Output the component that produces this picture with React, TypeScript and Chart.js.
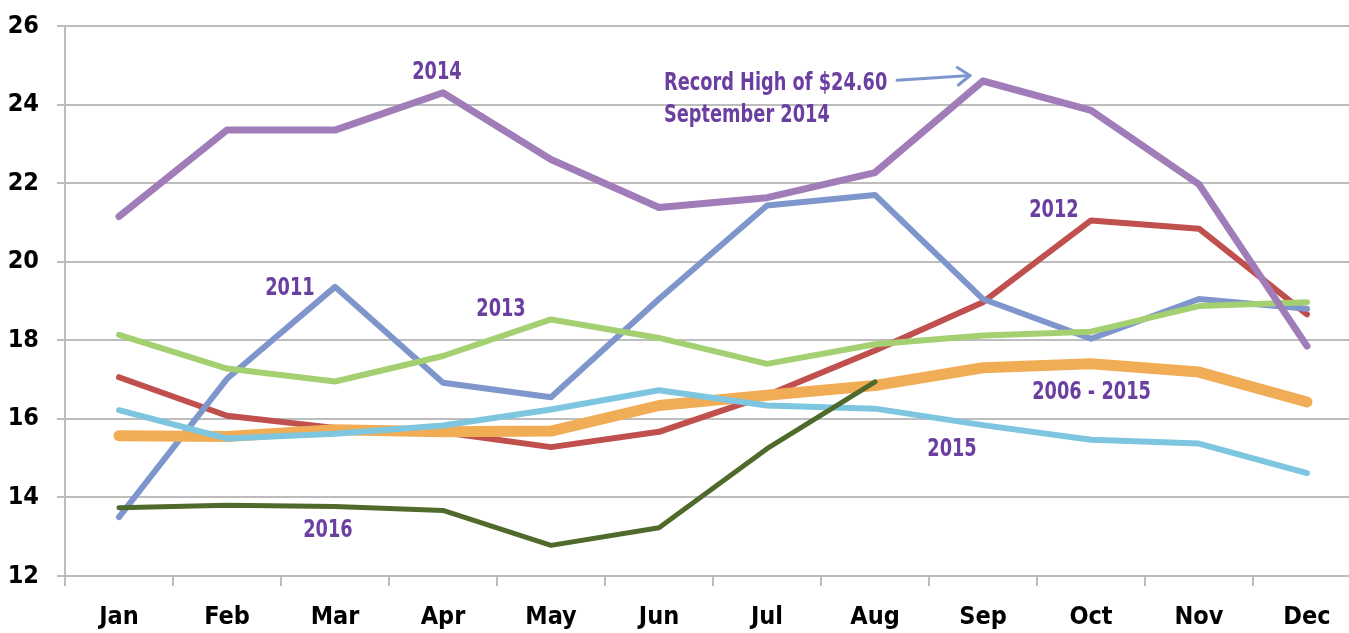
import React, { useEffect, useRef } from "react";
import { Chart, registerables } from "chart.js";

Chart.register(...registerables);

const months = ["Jan", "Feb", "Mar", "Apr", "May", "Jun", "Jul", "Aug", "Sep", "Oct", "Nov", "Dec"];

const y2014 = [21.15, 23.35, 23.35, 24.3, 22.6, 21.38, 21.63, 22.27, 24.6, 23.85, 21.97, 17.85];
const y2011 = [13.5, 17.02, 19.36, 16.92, 16.55, 19.05, 21.43, 21.7, 19.05, 18.04, 19.05, 18.8];
const y2012 = [17.06, 16.08, 15.77, 15.66, 15.28, 15.67, 16.6, 17.74, 18.97, 21.05, 20.84, 18.66];
const y2013 = [18.14, 17.28, 16.95, 17.6, 18.53, 18.06, 17.4, 17.9, 18.12, 18.22, 18.87, 18.97];
const y2015 = [16.22, 15.5, 15.62, 15.83, 16.24, 16.73, 16.34, 16.26, 15.84, 15.47, 15.37, 14.62];
const yAvg = [15.57, 15.55, 15.72, 15.67, 15.69, 16.34, 16.6, 16.85, 17.3, 17.4, 17.19, 16.43];
const y2016 = [13.74, 13.8, 13.77, 13.67, 12.78, 13.23, 15.24, 16.94];

const yMin = 12;
const yMax = 26;
const yStep = 2;

// text labels placed on the chart (x = category index, y = value)
const noteTexts = ["2014", "2011", "2013", "Record High of $24.60", "September 2014", "2012", "2006 - 2015", "2015", "2016"];
const noteX = [2.944, 1.583, 3.537, 5.046, 5.046, 8.657, 9.005, 7.713, 1.935];
const noteY = [24.83, 19.35, 18.81, 24.57, 23.75, 21.33, 16.7, 15.25, 13.19];
const noteAlign = ["center", "center", "center", "left", "left", "center", "center", "center", "center"];

// arrow pointing at the record high
const arrowFrom = [7.204, 24.62];
const arrowTo = [7.88, 24.74];

const FONT = "'Liberation Sans Narrow', 'DejaVu Sans Condensed', 'Liberation Sans', sans-serif";
const NOTE_COLOR = "#6B3FA0";
const GRID = "#BDBDBD";
const NOTE_SQUEEZE = 0.79;

const notesPlugin = {
  id: "notes",
  afterDatasetsDraw(chart: any) {
    const { ctx, scales } = chart;
    const xs = scales.x;
    const ys = scales.y;
    ctx.save();
    ctx.font = `bold 25px ${FONT}`;
    ctx.fillStyle = NOTE_COLOR;
    ctx.textBaseline = "middle";
    for (let i = 0; i < noteTexts.length; i++) {
      const px = xs.getPixelForValue(noteX[i]);
      const py = ys.getPixelForValue(noteY[i]) + 1;
      ctx.save();
      ctx.translate(px, py);
      ctx.scale(NOTE_SQUEEZE, 1);
      ctx.textAlign = noteAlign[i] as CanvasTextAlign;
      ctx.fillText(noteTexts[i], 0, 0);
      ctx.restore();
    }
    // arrow
    const x1 = xs.getPixelForValue(arrowFrom[0]);
    const y1 = ys.getPixelForValue(arrowFrom[1]);
    const x2 = xs.getPixelForValue(arrowTo[0]);
    const y2 = ys.getPixelForValue(arrowTo[1]);
    ctx.strokeStyle = "#7F96CC";
    ctx.lineWidth = 3;
    ctx.lineCap = "round";
    ctx.lineJoin = "round";
    ctx.beginPath();
    ctx.moveTo(x1, y1);
    ctx.lineTo(x2, y2);
    ctx.stroke();
    const ang = Math.atan2(y2 - y1, x2 - x1);
    const len = 15;
    const spread = 0.62;
    ctx.beginPath();
    ctx.moveTo(x2 - len * Math.cos(ang - spread), y2 - len * Math.sin(ang - spread));
    ctx.lineTo(x2, y2);
    ctx.lineTo(x2 - len * Math.cos(ang + spread), y2 - len * Math.sin(ang + spread));
    ctx.stroke();
    ctx.restore();
  },
};

function ds(label: string, data: number[], color: string, width: number) {
  return {
    label,
    data,
    borderColor: color,
    backgroundColor: color,
    borderWidth: width,
    pointRadius: 0,
    pointHoverRadius: 0,
    tension: 0,
    fill: false,
    borderCapStyle: "round",
    borderJoinStyle: "round",
  };
}

export default function App() {
  const ref = useRef<HTMLCanvasElement | null>(null);

  useEffect(() => {
    if (!ref.current) return;
    const chart = new Chart(ref.current, {
      type: "line",
      data: {
        labels: months,
        datasets: [
          ds("2016", y2016, "#4F6A2A", 5),
          ds("2014", y2014, "#A07CB8", 7),
          ds("2013", y2013, "#A5D071", 6),
          ds("2015", y2015, "#7EC6DF", 6),
          ds("2006 - 2015", yAvg, "#F1AD56", 11),
          ds("2011", y2011, "#7F96CC", 6),
          ds("2012", y2012, "#C0504D", 6),
        ] as any,
      },
      options: {
        animation: false,
        responsive: false,
        devicePixelRatio: 1,
        layout: { padding: { top: 26, right: 1, left: 0, bottom: 0 } },
        plugins: { legend: { display: false }, tooltip: { enabled: false } },
        scales: {
          x: {
            offset: true,
            grid: {
              offset: true,
              drawOnChartArea: false,
              drawTicks: true,
              tickLength: 10,
              color: GRID,
              lineWidth: 2,
            },
            border: { display: true, color: GRID, width: 2 },
            ticks: {
              color: "#000",
              padding: 16,
              font: { family: FONT, size: 25, weight: "bold" },
              maxRotation: 0,
              autoSkip: false,
            },
            afterFit(scale: any) {
              scale.height = 57;
            },
          },
          y: {
            min: yMin,
            max: yMax,
            ticks: {
              stepSize: yStep,
              color: "#000",
              padding: 18,
              font: { family: FONT, size: 25, weight: "bold" },
            },
            grid: { color: GRID, lineWidth: 2, tickLength: 8, drawTicks: true },
            border: { display: true, color: GRID, width: 2 },
            afterFit(scale: any) {
              scale.width = 65;
              scale.paddingTop = 0;
              scale.paddingBottom = 0;
            },
          },
        },
      } as any,
      plugins: [notesPlugin],
    });
    return () => chart.destroy();
  }, []);

  return (
    <div
      style={{
        position: "fixed",
        left: 0,
        top: 0,
        width: 1349,
        height: 633,
        overflow: "hidden",
        background: "#fff",
      }}
    >
      <canvas ref={ref} width={1362} height={633} style={{ display: "block" }} />
    </div>
  );
}
